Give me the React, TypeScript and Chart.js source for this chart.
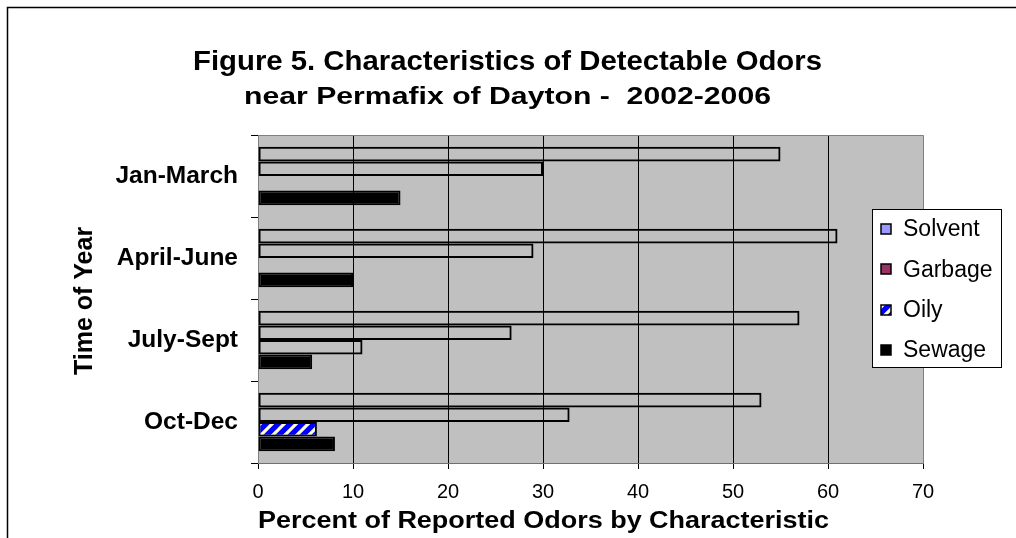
import React, { useEffect, useRef } from 'react';
import { Chart, registerables } from 'chart.js';

Chart.register(...registerables);

const categories = ['Jan-March', 'April-June', 'July-Sept', 'Oct-Dec'];
const seriesNames = ['Solvent', 'Garbage', 'Oily', 'Sewage'];
const solvent = [55, 61, 57, 53];
const garbage = [30, 29, 26.7, 32.8];
const oily = [0, 0, 11, 6.2];
const sewage = [15, 10, 5.7, 8.1];
const xMin = 0;
const xMax = 70;
const xStep = 10;
const titleLine1 = 'Figure 5. Characteristics of Detectable Odors';
const titleLine2 = 'near Permafix of Dayton -  2002-2006';
const xTitle = 'Percent of Reported Odors by Characteristic';
const yTitle = 'Time of Year';

const FONT = '"Liberation Sans", Arial, Helvetica, sans-serif';
const W = 1016;
const H = 538;

function makeStripePattern(): CanvasPattern | string {
  const s = 12;
  const c = document.createElement('canvas');
  c.width = s;
  c.height = s;
  const g = c.getContext('2d');
  if (!g) return '#0000ff';
  g.fillStyle = '#0000ff';
  g.fillRect(0, 0, s, s);
  g.strokeStyle = '#ffffc8';
  g.lineWidth = 3.2;
  g.beginPath();
  g.moveTo(-2, s + 2);
  g.lineTo(s + 2, -2);
  g.moveTo(-2, 2);
  g.lineTo(2, -2);
  g.moveTo(s - 2, s + 2);
  g.lineTo(s + 2, s - 2);
  g.stroke();
  const p = g.createPattern(c, 'repeat');
  return p || '#0000ff';
}

function fitText(ctx: CanvasRenderingContext2D, text: string, cx: number, cy: number, width: number) {
  const w = ctx.measureText(text).width;
  const sx = w > 0 ? width / w : 1;
  ctx.save();
  ctx.translate(cx, cy);
  ctx.scale(sx, 1);
  ctx.textAlign = 'center';
  ctx.textBaseline = 'middle';
  ctx.fillText(text, 0, 0);
  ctx.restore();
}

export default function App() {
  const ref = useRef<HTMLCanvasElement | null>(null);

  useEffect(() => {
    const canvas = ref.current;
    if (!canvas) return;
    const stripe = makeStripePattern();
    const clear = 'rgba(0,0,0,0)';
    const legendFills: (string | CanvasPattern)[] = ['#9999ff', '#993366', stripe, '#000000'];

    const decor = {
      id: 'decor',
      beforeDraw(chart: any) {
        const { ctx, chartArea: a } = chart;
        ctx.save();
        ctx.fillStyle = '#ffffff';
        ctx.fillRect(0, 0, chart.width, chart.height);
        ctx.fillStyle = '#c0c0c0';
        ctx.fillRect(a.left, a.top, a.right - a.left, a.bottom - a.top);
        ctx.restore();
      },
      beforeDatasetsDraw(chart: any) {
        const { ctx, chartArea: a } = chart;
        ctx.save();
        ctx.strokeStyle = '#808080';
        ctx.lineWidth = 1;
        ctx.beginPath();
        ctx.moveTo(Math.round(a.left) + 0.5, Math.round(a.top) + 0.5);
        ctx.lineTo(Math.round(a.right) + 0.5, Math.round(a.top) + 0.5);
        ctx.lineTo(Math.round(a.right) + 0.5, Math.round(a.bottom) + 0.5);
        ctx.stroke();
        ctx.restore();
      },
      afterDraw(chart: any) {
        const { ctx, chartArea: a } = chart;
        ctx.save();
        ctx.fillStyle = '#000';
        ctx.font = `bold 28px ${FONT}`;
        fitText(ctx, titleLine1, 507.5, 62, 629);
        ctx.font = `bold 24px ${FONT}`;
        fitText(ctx, titleLine2, 507.5, 97, 527);
        ctx.font = `bold 23px ${FONT}`;
        fitText(ctx, xTitle, 543.5, 522, 571);
        ctx.save();
        ctx.translate(85, (a.top + a.bottom) / 2 + 2);
        ctx.rotate(-Math.PI / 2);
        ctx.font = `bold 25px ${FONT}`;
        ctx.textAlign = 'center';
        ctx.textBaseline = 'middle';
        ctx.fillText(yTitle, 0, 0);
        ctx.restore();

        // legend
        const lx = 872.5, ly = 209.5, lw = 129, lh = 158;
        ctx.fillStyle = '#ffffff';
        ctx.fillRect(lx, ly, lw, lh);
        ctx.strokeStyle = '#000';
        ctx.lineWidth = 1;
        ctx.strokeRect(lx, ly, lw, lh);
        ctx.textAlign = 'left';
        ctx.textBaseline = 'middle';
        ctx.font = `23px ${FONT}`;
        seriesNames.forEach((name, i) => {
          const cy = 229 + i * 40.3;
          ctx.fillStyle = legendFills[i] as any;
          ctx.fillRect(881, Math.round(cy - 5), 10, 10);
          ctx.strokeStyle = '#000';
          ctx.lineWidth = 1.5;
          ctx.strokeRect(881, Math.round(cy - 5), 10, 10);
          ctx.fillStyle = '#000';
          ctx.fillText(name, 903, cy + 1);
        });

        // outer frame
        ctx.strokeStyle = '#000';
        ctx.lineWidth = 1.5;
        ctx.strokeRect(7.5, 7.5, W + 20, H + 20);
        ctx.restore();
      },
    };

    const barCommon = {
      borderColor: '#000',
      borderWidth: 2,
      borderSkipped: false as const,
      categoryPercentage: 0.713,
      barPercentage: 1.0,
    };

    const chart = new Chart(canvas, {
      type: 'bar',
      data: {
        labels: categories,
        datasets: [
          { label: seriesNames[0], data: solvent, backgroundColor: clear, ...barCommon },
          { label: seriesNames[1], data: garbage, backgroundColor: clear, ...barCommon },
          { label: seriesNames[2], data: oily, backgroundColor: [clear, clear, clear, stripe] as any, ...barCommon },
          { label: seriesNames[3], data: sewage, backgroundColor: '#000000', ...barCommon },
        ],
      },
      options: {
        indexAxis: 'y',
        responsive: false,
        animation: false,
        devicePixelRatio: 1,
        layout: { padding: { left: 0, right: W - 923, top: 135, bottom: 0 } },
        plugins: {
          legend: { display: false },
          title: { display: false },
          tooltip: { enabled: false },
        },
        scales: {
          x: {
            type: 'linear',
            min: xMin,
            max: xMax,
            ticks: {
              stepSize: xStep,
              color: '#000',
              font: { family: FONT, size: 20 },
              padding: 11,
            },
            grid: {
              color: (c: any) =>
                c.tick && (c.tick.value === xMin || c.tick.value === xMax) ? 'rgba(0,0,0,0)' : '#000',
              tickColor: '#000',
              tickLength: 6,
              lineWidth: 1,
            },
            border: { color: '#707070', width: 1 },
            afterFit: (scale: any) => {
              scale.height = H - 463;
            },
          },
          y: {
            type: 'category',
            ticks: {
              color: '#000',
              font: { family: FONT, size: 24.5, weight: 'bold' },
              padding: 13,
            },
            grid: {
              drawOnChartArea: false,
              drawTicks: true,
              tickLength: 7,
              color: '#000',
              tickColor: '#000',
              offset: true,
            },
            border: { color: '#808080', width: 1 },
            afterFit: (scale: any) => {
              scale.width = 258;
            },
          },
        },
      },
      plugins: [decor],
    });

    return () => {
      chart.destroy();
    };
  }, []);

  return (
    <div style={{ position: 'absolute', left: 0, top: 0, width: W, height: H, background: '#fff' }}>
      <canvas ref={ref} width={W} height={H} style={{ display: 'block', width: W, height: H }} />
    </div>
  );
}
